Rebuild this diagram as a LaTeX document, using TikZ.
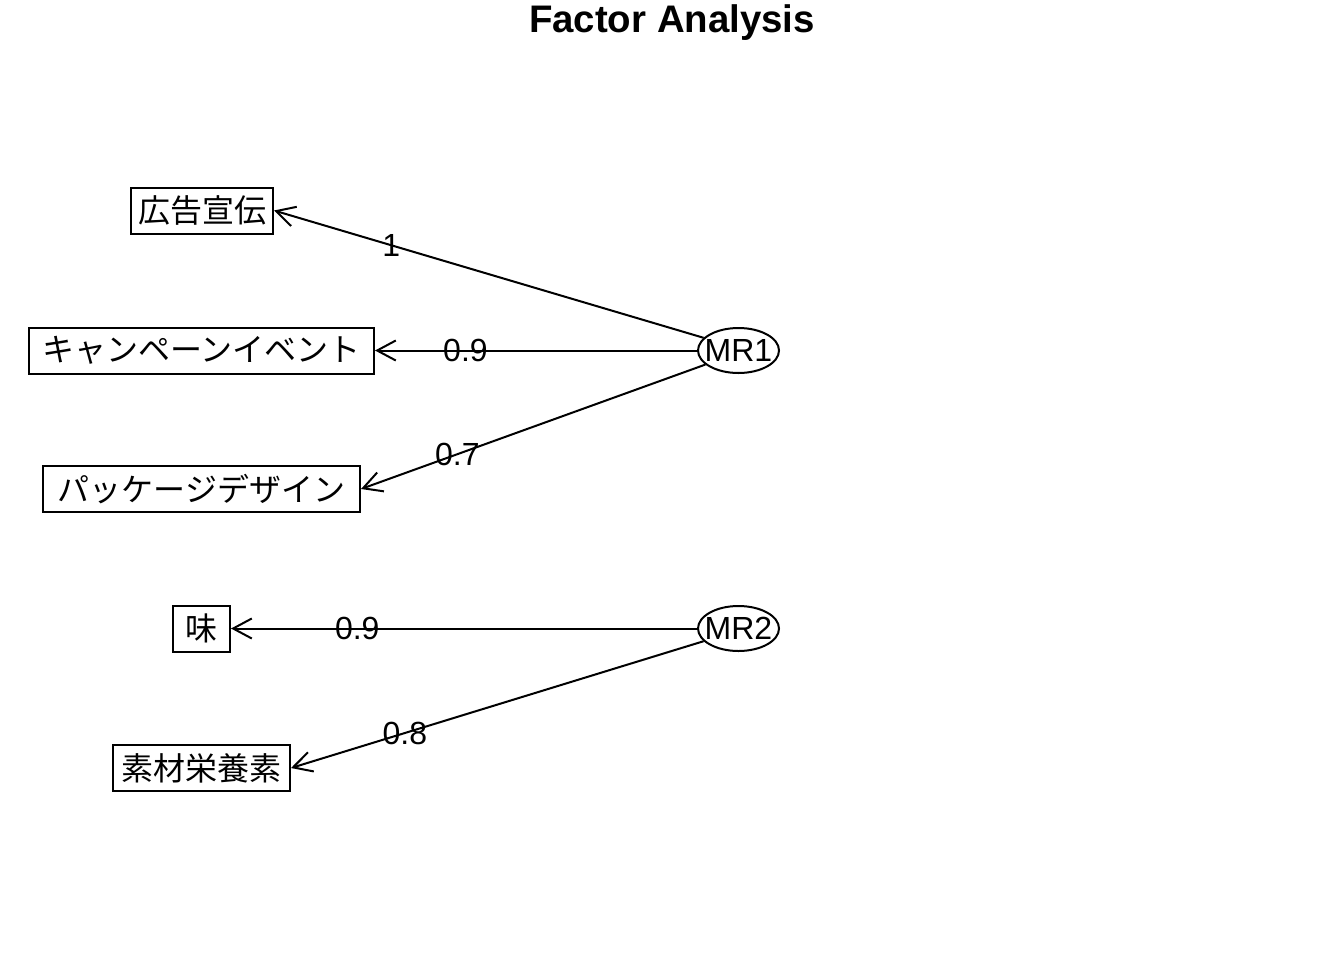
\documentclass[tikz,border=0pt]{standalone}
\usepackage{fontspec}
\setmainfont{Liberation Sans}
\newfontfamily\jp{Noto Sans CJK JP}
\usetikzlibrary{shapes.geometric,arrows.meta}
\begin{document}
\begin{tikzpicture}[x=0.75pt,y=-0.75pt,
 box/.style={draw, line width=1.5pt, minimum height=46*0.75pt, inner sep=0pt, font=\jp\fontsize{24}{28}\selectfont},
 fac/.style={draw, ellipse, line width=1.5pt, minimum width=81*0.75pt, minimum height=45*0.75pt, inner sep=0pt},
 facl/.style={inner sep=0pt, font=\fontsize{24}{28}\selectfont},
 arr/.style={line width=1.5pt, -{Straight Barb[length=14pt,width=15pt]}},
 lbl/.style={inner sep=0pt, font=\fontsize{24}{28}\selectfont}]
\useasboundingbox (0,0) rectangle (1344,960);
\node[font=\bfseries\fontsize{28.8}{32}\selectfont] (title) at (672,23) {Factor Analysis};
% observed variables
\node[box, minimum width=142*0.75pt] (ad) at (202,210.5) {広告宣伝};
\node[box, minimum width=345*0.75pt] (camp) at (201.5,350.5) {キャンペーンイベント};
\node[box, minimum width=317*0.75pt] (pkg) at (201.5,489) {パッケージデザイン};
\node[box, minimum width=57*0.75pt] (taste) at (201.5,628.5) {味};
\node[box, minimum width=177*0.75pt] (mat) at (201.5,768) {素材栄養素};
% factors
\node[fac, label={[facl]center:MR1}] (MR1) at (738.5,350.5) {};
\node[fac, label={[facl]center:MR2}] (MR2) at (738.5,628.5) {};
% loadings
\draw[arr] (MR1.160) -- node[lbl, pos=0.727] {1} (ad.east);
\draw[arr] (MR1.west) -- node[lbl, pos=0.719] {0.9} (camp.east);
\draw[arr] (MR1.203) -- node[lbl, pos=0.72] {0.7} (pkg.east);
\draw[arr] (MR2.west) -- node[lbl, pos=0.729] {0.9} (taste.east);
\draw[arr] (MR2.200) -- node[lbl, pos=0.724] {0.8} (mat.east);
\end{tikzpicture}
\end{document}
